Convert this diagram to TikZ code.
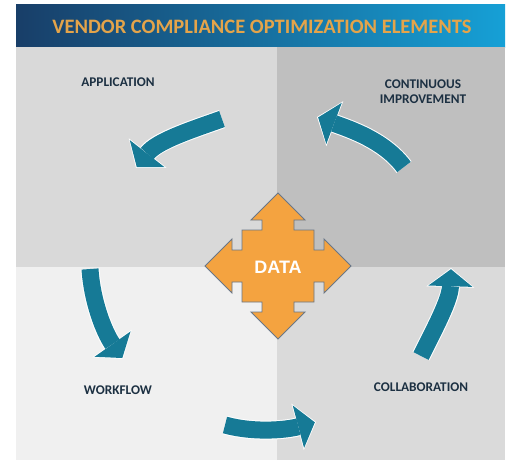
\documentclass[tikz,border=0pt]{standalone}
\usepackage{fontspec}
\setmainfont{Carlito}
\newfontfamily\datafont{Liberation Sans}
\usepackage{xcolor}
\usepackage{tikz}
\usetikzlibrary{arrows.meta}
\definecolor{vendorgold}{RGB}{228,164,74}
\definecolor{vendornavy}{RGB}{24,62,104}
\definecolor{vendormid}{RGB}{26,96,146}
\definecolor{vendorsky}{RGB}{22,160,214}
\definecolor{vendorteal}{RGB}{22,122,150}
\definecolor{vendororange}{RGB}{244,163,64}
\definecolor{vendoredge}{RGB}{105,118,135}
\definecolor{vendorink}{RGB}{28,48,66}
\definecolor{quadone}{RGB}{217,217,217}
\definecolor{quadtwo}{RGB}{191,191,191}
\definecolor{quadthree}{RGB}{240,240,240}
\definecolor{quadfour}{RGB}{218,218,218}

\begin{document}
\begin{tikzpicture}[x=1pt, y=-1pt,
  heading/.style={font=\bfseries\fontsize{20.5}{23}\selectfont, text=vendorgold, inner sep=0pt},
  stage/.style={font=\bfseries\fontsize{13.3}{15}\selectfont, text=vendorink, align=center, inner sep=0pt},
  flowedge/.style={line width=19pt, white, -{Triangle[width=48pt,length=19pt,line width=0pt]}},
  flow/.style={line width=17pt, vendorteal, shorten >=1.2pt, -{Triangle[width=44pt,length=17pt,line width=0pt]}},
  datacross/.style={fill=vendororange, draw=vendoredge, line width=0.9pt, line join=miter}]
  \useasboundingbox (0,0) rectangle (509,461);
  % banner
  \shade[left color=vendornavy, middle color=vendormid, right color=vendorsky] (16,4) rectangle (505,47);
  \node[heading] (title) at (262,27) {VENDOR COMPLIANCE OPTIMIZATION ELEMENTS};
  % four quadrants
  \fill[quadone] (16,47) rectangle (277,267);
  \fill[quadtwo] (277,47) rectangle (505,267);
  \fill[quadthree] (16,267) rectangle (277,460);
  \fill[quadfour] (277,267) rectangle (505,460);
  % stage names
  \node[stage] (application) at (118,82) {APPLICATION};
  \node[stage] (improvement) at (423,92) {CONTINUOUS\\IMPROVEMENT};
  \node[stage] (workflow) at (118,390) {WORKFLOW};
  \node[stage] (collaboration) at (421,387) {COLLABORATION};
  % arrow ends
  \coordinate (appS) at (222,119);  \coordinate (appE) at (136,168);
  \coordinate (wfS) at (90,269);    \coordinate (wfE) at (123,359);
  \coordinate (colS) at (225,425);  \coordinate (colE) at (316,422);
  \coordinate (impS) at (421,356);  \coordinate (impE) at (451,268);
  \coordinate (backS) at (404,167); \coordinate (backE) at (317,117);
  % curved arrows round the middle
  \foreach \s/\p/\q/\e in {appS/{(191,130)}/{(157,141)}/appE,
                           wfS/{(92,301)}/{(104,332)}/wfE,
                           colS/{(254,433)}/{(286,430)}/colE,
                           impS/{(435,328)}/{(450,300)}/impE,
                           backS/{(384,140)}/{(349,129)}/backE} {
    \draw[flowedge] (\s) .. controls \p and \q .. (\e);
    \draw[flow] (\s) .. controls \p and \q .. (\e);
  }
  % data cross
  \draw[datacross, shift={(278,266)}] (0,-73) -- (27,-46) -- (16,-46) -- (16,-36) -- (36,-36) -- (36,-16)
    -- (46,-16) -- (46,-27) -- (73,0) -- (46,27) -- (46,16) -- (36,16) -- (36,36) -- (16,36)
    -- (16,46) -- (27,46) -- (0,73) -- (-27,46) -- (-16,46) -- (-16,36) -- (-36,36) -- (-36,16)
    -- (-46,16) -- (-46,27) -- (-73,0) -- (-46,-27) -- (-46,-16) -- (-36,-16) -- (-36,-36) -- (-16,-36)
    -- (-16,-46) -- (-27,-46) -- cycle;
  \node[font=\datafont\bfseries\fontsize{18}{21}\selectfont, text=white, inner sep=0pt] (data) at (278,267) {DATA};
\end{tikzpicture}
\end{document}
